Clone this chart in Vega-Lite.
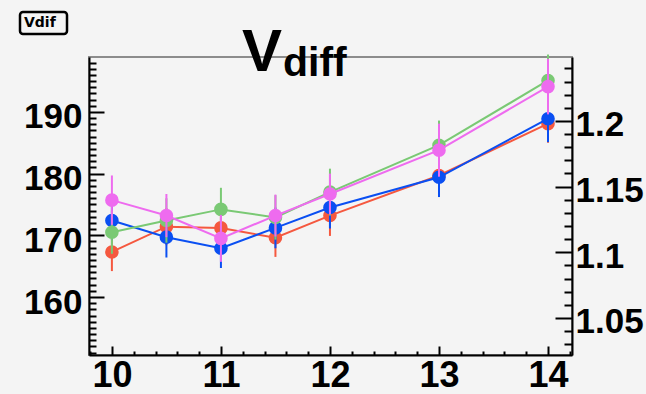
{
  "$schema": "https://vega.github.io/schema/vega-lite/v6.json",
  "width": 483,
  "height": 298,
  "autosize": {"type": "none"},
  "padding": {"left": 89, "top": 57, "right": 74, "bottom": 39},
  "background": "#f4f4f4",
  "title": {
    "text": "V",
    "subtitle": "\u200b\u2002\u2002diff",
    "anchor": "start",
    "frame": "group",
    "dx": 153,
    "dy": 54,
    "offset": -20,
    "font": "Liberation Sans",
    "fontSize": 60,
    "fontWeight": "bold",
    "color": "black",
    "subtitleFont": "Liberation Sans",
    "subtitleFontSize": 41,
    "subtitleFontWeight": "bold",
    "subtitleColor": "black",
    "subtitlePadding": -40
  },
  "data": {
    "values": [
      {"s": "red", "x": 10, "value": 167.3, "err": 3.1},
      {"s": "red", "x": 10.5, "value": 171.4, "err": 3.0},
      {"s": "red", "x": 11, "value": 171.2, "err": 3.1},
      {"s": "red", "x": 11.5, "value": 169.6, "err": 3.1},
      {"s": "red", "x": 12, "value": 173.2, "err": 3.3},
      {"s": "red", "x": 13, "value": 179.7, "err": 3.4},
      {"s": "red", "x": 14, "value": 188.1, "err": 3.1},
      {"s": "blue", "x": 10, "value": 172.4, "err": 3.2},
      {"s": "blue", "x": 10.5, "value": 169.7, "err": 3.3},
      {"s": "blue", "x": 11, "value": 167.9, "err": 3.2},
      {"s": "blue", "x": 11.5, "value": 171.2, "err": 3.3},
      {"s": "blue", "x": 12, "value": 174.5, "err": 3.4},
      {"s": "blue", "x": 13, "value": 179.4, "err": 3.2},
      {"s": "blue", "x": 14, "value": 188.9, "err": 3.8},
      {"s": "green", "x": 10, "value": 170.5, "err": 3.5},
      {"s": "green", "x": 10.5, "value": 172.4, "err": 3.6},
      {"s": "green", "x": 11, "value": 174.2, "err": 3.5},
      {"s": "green", "x": 11.5, "value": 172.9, "err": 3.6},
      {"s": "green", "x": 12, "value": 177.0, "err": 3.8},
      {"s": "green", "x": 13, "value": 184.6, "err": 4.0},
      {"s": "green", "x": 14, "value": 195.1, "err": 4.2},
      {"s": "magenta", "x": 10, "value": 175.7, "err": 4.0},
      {"s": "magenta", "x": 10.5, "value": 173.2, "err": 3.5},
      {"s": "magenta", "x": 11, "value": 169.5, "err": 3.8},
      {"s": "magenta", "x": 11.5, "value": 173.2, "err": 3.4},
      {"s": "magenta", "x": 12, "value": 176.7, "err": 3.3},
      {"s": "magenta", "x": 13, "value": 183.8, "err": 4.3},
      {"s": "magenta", "x": 14, "value": 194.1, "err": 4.5}
    ]
  },
  "layer": [
    {
      "encoding": {
        "x": {
          "field": "x",
          "type": "quantitative",
          "scale": {"domain": [9.79, 14.22], "nice": false, "zero": false},
          "axis": {
            "title": null,
            "values": [9.8, 10, 10.2, 10.4, 10.6, 10.8, 11, 11.2, 11.4, 11.6, 11.8, 12, 12.2, 12.4, 12.6, 12.8, 13, 13.2, 13.4, 13.6, 13.8, 14, 14.2],
            "labelExpr": "abs(datum.value - round(datum.value)) < 0.001 ? format(datum.value, 'd') : ''",
            "tickSize": {"condition": {"test": "abs(datum.value - round(datum.value)) < 0.001", "value": -9}, "value": -4},
            "labelPadding": 12,
            "labelFontSize": 36
          }
        },
        "y": {
          "field": "value",
          "type": "quantitative",
          "scale": {"domain": [150.6, 198.9], "nice": false, "zero": false},
          "axis": {
            "title": null,
            "orient": "left",
            "values": [151, 152, 153, 154, 155, 156, 157, 158, 159, 160, 161, 162, 163, 164, 165, 166, 167, 168, 169, 170, 171, 172, 173, 174, 175, 176, 177, 178, 179, 180, 181, 182, 183, 184, 185, 186, 187, 188, 189, 190, 191, 192, 193, 194, 195, 196, 197, 198],
            "labelExpr": "datum.value % 10 === 0 ? format(datum.value, 'd') : ''",
            "tickSize": {"condition": {"test": "datum.value % 10 === 0", "value": -15}, "value": -7},
            "labelPadding": 22,
            "labelOffset": 5
          }
        },
        "color": {
          "field": "s",
          "type": "nominal",
          "scale": {
            "domain": ["red", "blue", "green", "magenta"],
            "range": ["#f5583f", "#0a4ff2", "#7ac974", "#ee6bef"]
          },
          "legend": {
            "values": [],
            "title": "Vdif\u2002\u200b",
            "orient": "none",
            "legendX": -69,
            "legendY": -45
          }
        }
      },
      "layer": [
        {
          "transform": [{"filter": "datum.s === 'red'"}],
          "layer": [
            {"mark": {"type": "errorbar", "thickness": 2}, "encoding": {"yError": {"field": "err"}}},
            {"mark": {"type": "line", "strokeWidth": 2}},
            {"mark": {"type": "point", "filled": true, "size": 185, "opacity": 1}}
          ]
        },
        {
          "transform": [{"filter": "datum.s === 'blue'"}],
          "layer": [
            {"mark": {"type": "errorbar", "thickness": 2}, "encoding": {"yError": {"field": "err"}}},
            {"mark": {"type": "line", "strokeWidth": 2}},
            {"mark": {"type": "point", "filled": true, "size": 185, "opacity": 1}}
          ]
        },
        {
          "transform": [{"filter": "datum.s === 'green'"}],
          "layer": [
            {"mark": {"type": "errorbar", "thickness": 2}, "encoding": {"yError": {"field": "err"}}},
            {"mark": {"type": "line", "strokeWidth": 2}},
            {"mark": {"type": "point", "filled": true, "size": 185, "opacity": 1}}
          ]
        },
        {
          "transform": [{"filter": "datum.s === 'magenta'"}],
          "layer": [
            {"mark": {"type": "errorbar", "thickness": 2}, "encoding": {"yError": {"field": "err"}}},
            {"mark": {"type": "line", "strokeWidth": 2}},
            {"mark": {"type": "point", "filled": true, "size": 185, "opacity": 1}}
          ]
        }
      ]
    },
    {
      "mark": {"type": "point", "opacity": 0, "clip": true},
      "encoding": {
        "y": {
          "field": "value",
          "type": "quantitative",
          "scale": {"domain": [1.0218, 1.2487], "nice": false, "zero": false},
          "axis": {
            "title": null,
            "orient": "right",
            "values": [1.03, 1.04, 1.05, 1.06, 1.07, 1.08, 1.09, 1.1, 1.11, 1.12, 1.13, 1.14, 1.15, 1.16, 1.17, 1.18, 1.19, 1.2, 1.21, 1.22, 1.23, 1.24],
            "labelExpr": "abs(datum.value * 20 - round(datum.value * 20)) < 0.001 ? format(datum.value, '~g') : ''",
            "tickSize": {"condition": {"test": "abs(datum.value * 20 - round(datum.value * 20)) < 0.001", "value": -17}, "value": -8},
            "labelPadding": 20,
            "labelOffset": 4
          }
        }
      }
    }
  ],
  "resolve": {"scale": {"y": "independent"}},
  "config": {
    "view": {"stroke": "#8c8c8c", "strokeWidth": 2, "fill": "#f4f4f4"},
    "axis": {
      "domainColor": "black",
      "domainWidth": 2,
      "tickColor": "black",
      "tickWidth": 2,
      "grid": false,
      "labelFont": "Liberation Sans",
      "labelFontWeight": "bold",
      "labelFontSize": 35,
      "labelColor": "black",
      "labelFlush": false,
      "labelOverlap": false,
      "labelBound": false,
      "zindex": 1
    },
    "legend": {
      "strokeColor": "black",
      "strokeWidth": 2.5,
      "fillColor": "#f4f4f4",
      "cornerRadius": 3,
      "padding": 4,
      "titleFont": "DejaVu Sans",
      "titleFontSize": 14,
      "titleFontWeight": "bold",
      "titleColor": "black",
      "titlePadding": 0
    }
  }
}
